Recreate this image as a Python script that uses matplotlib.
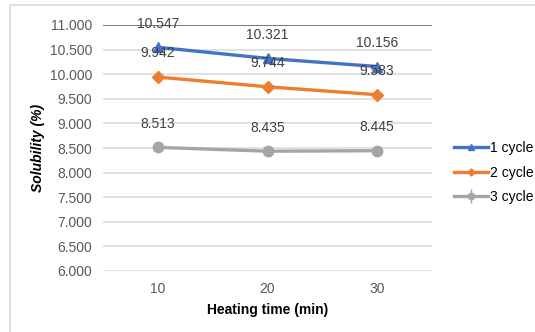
import matplotlib
matplotlib.use("Agg")
import matplotlib.pyplot as plt
from matplotlib.patches import Rectangle

plt.rcParams["font.family"] = ["Liberation Sans", "DejaVu Sans"]

heating_time = ["10", "20", "30"]
cycle_1 = [10.547, 10.321, 10.156]
cycle_2 = [9.942, 9.744, 9.583]
cycle_3 = [8.513, 8.435, 8.445]
cycle_3_err = [0.0, 0.08, 0.05]
series_names = ["1 cycle", "2 cycle", "3 cycle"]
y_ticks = [6.0, 6.5, 7.0, 7.5, 8.0, 8.5, 9.0, 9.5, 10.0, 10.5, 11.0]

fig = plt.figure(figsize=(5.35, 3.32), dpi=100)
fig.patches.append(Rectangle((10 / 535, -0.1), 1.0, 1.1 - 5 / 332,
                             transform=fig.transFigure, fill=False,
                             edgecolor="#d9d9d9", linewidth=1.2))
ax = fig.add_axes([103 / 535, 1 - 271 / 332, 329 / 535, 246 / 332])

x = list(range(len(heating_time)))
styles = [
    ("#4472C4", "^", cycle_1, None),
    ("#ED7D31", "D", cycle_2, None),
    ("#A5A5A5", "o", cycle_3, cycle_3_err),
]
for (color, marker, vals, err), name in zip(styles, series_names):
    ms = 6 if marker == "D" else 7.5
    ax.errorbar(x, vals, yerr=err, color=color, marker=marker, markersize=ms,
                linewidth=2.4, label=name, ecolor=color, elinewidth=1, capsize=0)
    for xi, v in zip(x, vals):
        ax.annotate(f"{v:.3f}", (xi, v), xytext=(0, 12), textcoords="offset points",
                    ha="center", va="bottom", fontsize=10, color="#404040")

ax.set_xlim(-0.5, len(heating_time) - 0.5)
ax.set_ylim(6.0, 11.0)
ax.set_yticks(y_ticks)
ax.set_yticklabels([f"{t:.3f}" for t in y_ticks])
ax.set_xticks(x)
ax.set_xticklabels(heating_time)
ax.tick_params(length=0, labelsize=10, labelcolor="#595959", pad=8)
ax.tick_params(axis="x", pad=8)
for t in y_ticks[:-1]:
    ax.axhline(t, color="#d9d9d9", linewidth=1.1, zorder=0)
ax.axhline(11.0, color="#6b6b6b", linewidth=1.3, zorder=0)
for s in ax.spines.values():
    s.set_visible(False)

ax.set_xlabel("Heating time (min)", fontsize=10, fontweight="bold", labelpad=5)
fig.text(38 / 535, 1 - 148 / 332, "Solubility (%)", rotation=90, ha="center",
         va="center", fontsize=10, fontweight="bold", style="italic")

ax.legend(loc="center left", bbox_to_anchor=(1.03, 0.4), frameon=False,
          fontsize=10, handlelength=2.4, handletextpad=0.2, labelspacing=0.75,
          markerscale=0.6)

fig.savefig("out.png", dpi=100)
